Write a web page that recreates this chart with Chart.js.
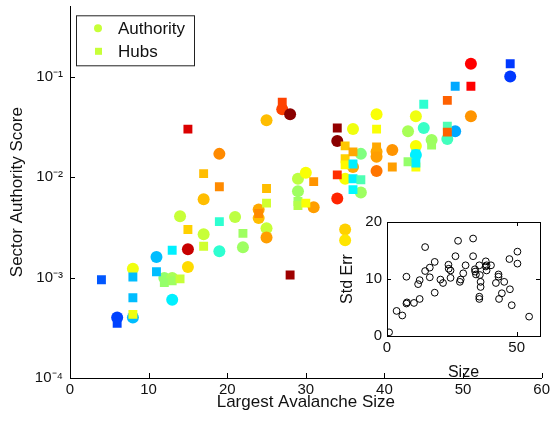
<!DOCTYPE html>
<html>
<head>
<meta charset="utf-8">
<script src="https://cdn.jsdelivr.net/npm/chart.js@4/dist/chart.umd.min.js"></script>
<style>
  html, body { margin: 0; padding: 0; background: #fff; }
  #wrap { position: relative; width: 553px; height: 424px; }
  #main { position: absolute; left: 0; top: 0; }
  #inset { position: absolute; left: 330px; top: 200px; }
</style>
</head>
<body>
<div id="wrap">
  <canvas id="main" width="553" height="424"></canvas>
  <canvas id="inset" width="223" height="190"></canvas>
</div>
<script>
// ---------- data ----------
const authSize  = [6,8,8,11,12,13,13,14,15,15,17,17,19,19,21,22,24,24,25,25,25,27,28,29,29,30,31,34,34,35,35,35,36,36,37,37,39,39,39,39,41,43,44,44,44,45,46,48,49,51,51,56];
const authScore = [0.0004,0.0004,0.00122,0.0016,0.00099,0.00099,0.0006,0.00406,0.00191,0.00127,
                   0.00269,0.006,0.017,0.00183,0.004,0.002,0.00475,0.0039,0.0368,0.0031,
                   0.0025,0.0472,0.0422,0.0096,0.0072,0.011,0.005,0.0228,0.0061,0.0096,
                   0.003,0.00235,0.030,0.0126,0.017,0.007,0.0422,0.0178,0.0159,0.0115,
                   0.0186,0.0286,0.0403,0.0204,0.0166,0.0307,0.0233,0.0239,0.0286,0.134,
                   0.0403,0.1];
const authLevel = [0.19,0.31,0.61,0.31,0.52,0.54,0.36,0.57,0.93,0.66,
                   0.57,0.69,0.74,0.42,0.56,0.53,0.71,0.69,0.69,0.57,
                   0.72,0.81,0.99,0.56,0.53,0.62,0.72,0.99,0.84,0.62,
                   0.67,0.65,0.61,0.71,0.50,0.53,0.62,0.71,0.72,0.76,
                   0.73,0.54,0.61,0.62,0.36,0.43,0.53,0.44,0.29,0.875,
                   0.73,0.18];

const hubSize  = [4,6,8,8,8,11,12,13,13,14,15,15,17,17,19,19,22,24,25,25,27,28,29,29,30,31,34,34,35,35,35,36,36,36,36,37,39,39,41,43,44,44,44,45,46,48,48,48,49,51,56];
const hubScore = [0.00095,0.00035,0.00043,0.00063,0.00101,0.00114,0.00089,0.00187,0.00093,0.00097,
                  0.030,0.003,0.0108,0.00205,0.008,0.0036,0.00275,0.00434,0.0077,0.0055,
                  0.0554,0.00106,0.0057,0.0052,0.0055,0.009,0.0307,0.0105,0.0204,0.0152,
                  0.0132,0.0178,0.0135,0.0096,0.0075,0.0094,0.030,0.0199,0.0126,0.0142,
                  0.0126,0.017,0.0138,0.053,0.0208,0.0579,0.0321,0.028,0.08,0.08,
                  0.134];
const hubLevel = [0.21,0.19,0.61,0.31,0.31,0.31,0.52,0.36,0.53,0.57,
                  0.91,0.67,0.69,0.58,0.74,0.42,0.53,0.74,0.69,0.58,
                  0.81,0.97,0.53,0.55,0.62,0.73,0.98,0.83,0.68,0.67,
                  0.63,0.71,0.36,0.36,0.37,0.45,0.62,0.71,0.72,0.52,
                  0.62,0.36,0.36,0.42,0.53,0.78,0.45,0.78,0.29,0.875,
                  0.18];
const legendLevel = 0.57;

const yTickValues = [1e-4, 1e-3, 1e-2, 1e-1];
const yTickLabels = ['10\u207B\u2074', '10\u207B\u00B3', '10\u207B\u00B2', '10\u207B\u00B9'];

const errSize  = [0.8,3.7,5.9,7.5,7.5,7.7,10.4,12,12.6,12.6,14.7,14.7,16.5,16.5,18.4,18.4,20.6,21.6,23.7,23.8,
                  24.5,24.5,26.4,27.4,28.1,28.4,29.4,30.3,33.2,33.2,33.9,34,34.3,35.6,35.8,36.1,36.1,35.6,35.6,38.1,
                  38.1,38.4,38.4,40.1,42,43,43,43.2,44.3,45.2,47.2,47.4,48.1,50.3,50.3,54.8];
const errValue = [0.64,4.4,3.6,10.4,5.7,5.9,5.8,9.1,9.8,6.5,15.6,11.4,12,10.3,13,7.6,9.9,9.3,12.5,11.8,
                  11.5,10.2,14,16.7,9.5,9.9,11,12.4,17.1,14,11.7,11.3,10.8,12.4,10.7,9.5,8.6,6.9,6.5,13.1,
                  12.2,12.4,11.5,12.4,9.3,10.8,10.4,6.5,7.5,9.5,13.5,8.2,5.4,14.8,12.7,3.4];

// ---------- helpers ----------
function jet(v) {
  const c = t => Math.round(255 * Math.max(0, Math.min(1, t)));
  return 'rgb(' + c(1.5 - Math.abs(4*v - 3)) + ',' + c(1.5 - Math.abs(4*v - 2)) + ',' + c(1.5 - Math.abs(4*v - 1)) + ')';
}
const FONT = "'Liberation Sans', Arial, Helvetica, sans-serif";
const TXT = '#111';

// inward tick marks + optional full box
const inwardTicks = {
  id: 'inwardTicks',
  afterDraw(chart, args, opts) {
    const {ctx, chartArea: a, scales: {x, y}} = chart;
    ctx.save();
    ctx.strokeStyle = '#000';
    ctx.lineWidth = 1;
    ctx.beginPath();
    if (opts.box) {
      ctx.moveTo(a.left, Math.round(a.top) + 0.5); ctx.lineTo(a.right, Math.round(a.top) + 0.5);
      ctx.moveTo(Math.round(a.right) + 0.5, a.top); ctx.lineTo(Math.round(a.right) + 0.5, a.bottom);
    }
    x.ticks.forEach(t => {
      const px = Math.round(x.getPixelForValue(t.value)) + 0.5;
      ctx.moveTo(px, a.bottom); ctx.lineTo(px, a.bottom - opts.len);
      if (opts.box) { ctx.moveTo(px, a.top); ctx.lineTo(px, a.top + opts.len); }
    });
    y.ticks.forEach(t => {
      let len = opts.len;
      if (opts.log) {
        const e = Math.log10(t.value);
        len = Math.abs(e - Math.round(e)) < 1e-6 ? opts.len : opts.minorLen;
      }
      const py = Math.round(y.getPixelForValue(t.value)) + 0.5;
      ctx.moveTo(a.left, py); ctx.lineTo(a.left + len, py);
      if (opts.box) { ctx.moveTo(a.right, py); ctx.lineTo(a.right - len, py); }
    });
    ctx.stroke();
    ctx.restore();
  }
};

// boxed legend inside the plot area
const boxLegend = {
  id: 'boxLegend',
  afterDraw(chart, args, opts) {
    const {ctx, chartArea: a} = chart;
    const ds = [chart.data.datasets[1], chart.data.datasets[0]]; // Authority, Hubs
    const x0 = a.left + 6, y0 = a.top + 9, w = 118, h = 50;
    ctx.save();
    ctx.fillStyle = '#fff';
    ctx.fillRect(x0, y0, w, h);
    ctx.strokeStyle = '#222';
    ctx.lineWidth = 1;
    ctx.strokeRect(x0 + 0.5, y0 + 0.5, w, h);
    ctx.font = '17px ' + FONT;
    ctx.textBaseline = 'middle';
    ctx.textAlign = 'left';
    ds.forEach((d, i) => {
      const cy = y0 + 13 + i * 23;
      ctx.fillStyle = jet(legendLevel);
      if (d.pointStyle === 'circle') {
        ctx.beginPath(); ctx.arc(x0 + 22, cy, 4, 0, Math.PI * 2); ctx.fill();
      } else {
        ctx.fillRect(x0 + 19, cy - 3.5, 7, 7);
      }
      ctx.fillStyle = TXT;
      ctx.fillText(d.label, x0 + 42, cy + 1);
    });
    ctx.restore();
  }
};

// ---------- main chart ----------
new Chart(document.getElementById('main'), {
  type: 'scatter',
  data: {
    datasets: [
      {
        label: 'Hubs',
        data: hubSize.map((s, i) => ({x: s, y: hubScore[i]})),
        pointStyle: 'rect',
        pointRadius: 6.3,
        pointHoverRadius: 6.3,
        pointBorderWidth: 0,
        pointBackgroundColor: hubLevel.map(jet),
        order: 0
      },
      {
        label: 'Authority',
        data: authSize.map((s, i) => ({x: s, y: authScore[i]})),
        pointStyle: 'circle',
        pointRadius: 6,
        pointHoverRadius: 6,
        pointBorderWidth: 0,
        pointBackgroundColor: authLevel.map(jet),
        order: 1
      }
    ]
  },
  options: {
    responsive: false,
    animation: false,
    devicePixelRatio: 1,
    layout: { padding: { left: 0, right: 10, top: 0, bottom: 10 } },
    plugins: {
      legend: { display: false },
      tooltip: { enabled: false },
      inwardTicks: { len: 5, minorLen: 3, log: true, box: false },
      boxLegend: {}
    },
    scales: {
      x: {
        type: 'linear', min: 0, max: 60,
        ticks: { stepSize: 10, padding: 3, color: TXT, font: { family: FONT, size: 15 }, maxRotation: 0, autoSkip: false },
        grid: { display: false, drawTicks: false },
        border: { display: true, color: '#000', width: 1 },
        title: { display: true, text: 'Largest Avalanche Size', color: TXT, font: { family: FONT, size: 17 }, padding: { top: 0, bottom: 1 } },
        afterFit(s) { s.height = 36; }
      },
      y: {
        type: 'logarithmic', min: 1e-4, max: 0.5,
        ticks: {
          autoSkip: false, padding: 7, color: TXT, font: { family: FONT, size: 15 },
          callback(v) {
            const i = yTickValues.findIndex(t => Math.abs(Math.log10(t) - Math.log10(v)) < 1e-6);
            return i >= 0 ? yTickLabels[i] : null;
          }
        },
        grid: { display: false, drawTicks: false },
        border: { display: true, color: '#000', width: 1 },
        title: { display: true, text: 'Sector Authority Score', color: TXT, font: { family: FONT, size: 17 }, padding: { top: 7, bottom: 0 } },
        afterFit(s) { s.width = 70; s.paddingTop = 0; }
      }
    }
  },
  plugins: [inwardTicks, boxLegend]
});

// ---------- inset chart ----------
new Chart(document.getElementById('inset'), {
  type: 'scatter',
  data: {
    datasets: [{
      label: 'Std Err',
      data: errSize.map((s, i) => ({x: s, y: errValue[i]})),
      pointStyle: 'circle',
      pointRadius: 3.4,
      pointHoverRadius: 3.4,
      pointBorderWidth: 1,
      pointBorderColor: '#000',
      pointBackgroundColor: 'rgba(0,0,0,0)'
    }]
  },
  options: {
    responsive: false,
    animation: false,
    devicePixelRatio: 1,
    layout: { padding: { left: 0, right: 13, top: 22, bottom: 8 } },
    plugins: {
      legend: { display: false },
      tooltip: { enabled: false },
      inwardTicks: { len: 4, box: true }
    },
    scales: {
      x: {
        type: 'linear', min: 0, max: 59,
        ticks: { stepSize: 50, includeBounds: false, padding: 3, color: TXT, font: { family: FONT, size: 15 }, maxRotation: 0 },
        grid: { display: false, drawTicks: false },
        border: { display: true, color: '#000', width: 1 },
        title: { display: true, text: 'Size', color: TXT, font: { family: FONT, size: 16 }, padding: { top: 0, bottom: 0 } },
        afterFit(s) { s.height = 46; }
      },
      y: {
        type: 'linear', min: 0, max: 20,
        ticks: { stepSize: 10, padding: 5, color: TXT, font: { family: FONT, size: 15 } },
        grid: { display: false, drawTicks: false },
        border: { display: true, color: '#000', width: 1 },
        title: { display: true, text: 'Std Err', color: TXT, font: { family: FONT, size: 16 }, padding: { top: 8, bottom: 0 } },
        afterFit(s) { s.width = 57; }
      }
    }
  },
  plugins: [inwardTicks]
});
</script>
</body>
</html>
